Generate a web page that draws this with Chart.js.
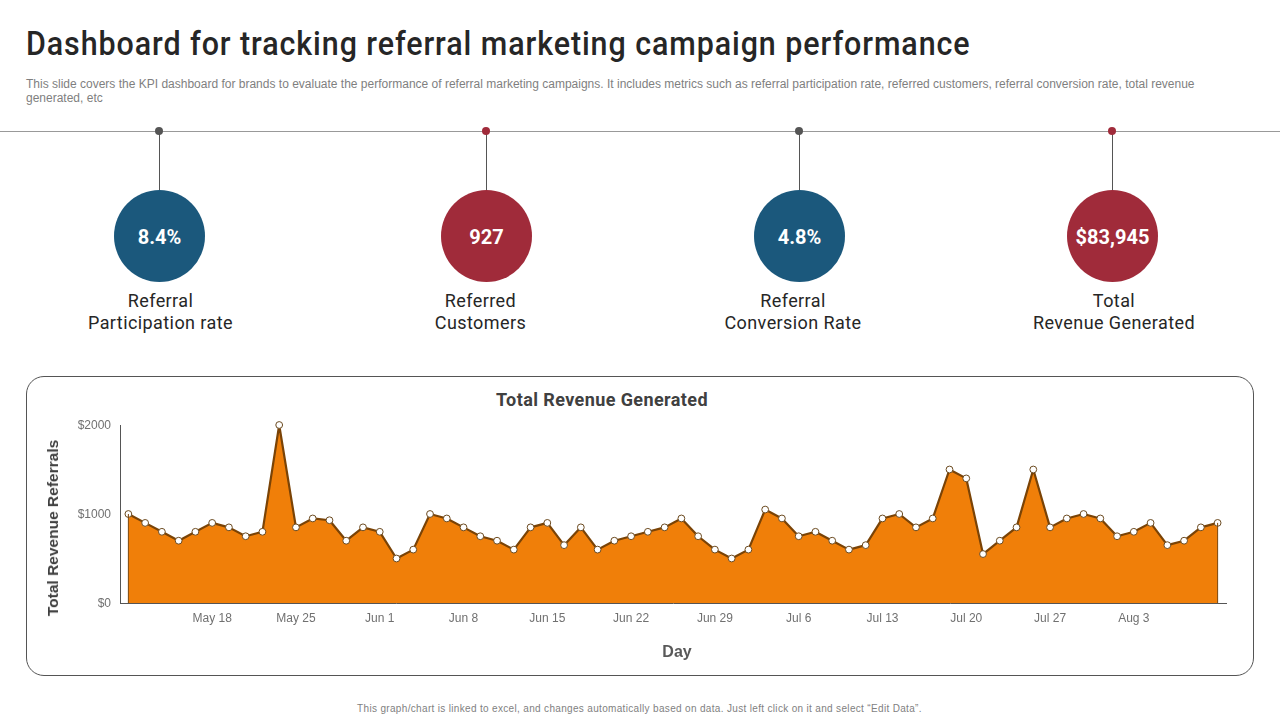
<!DOCTYPE html>
<html><head><meta charset="utf-8">
<script src="https://cdn.jsdelivr.net/npm/chart.js@4"></script>
<style>
html,body{margin:0;padding:0;background:#fff;width:1280px;height:720px;overflow:hidden;font-family:"Liberation Sans",Arial,sans-serif}
.a{position:absolute}
#title{left:26px;top:24px;font:500 33px/40px Roboto,sans-serif;letter-spacing:1px;color:#262626;white-space:nowrap;transform:scaleX(.922);transform-origin:left center}
#sub{left:26px;top:77px;width:1210px;font:12px/14px "Liberation Sans",sans-serif;color:#7f7f7f;letter-spacing:0}
#rule{left:0;top:131px;width:1280px;height:1px;background:#999}
.dot{width:8px;height:8px;border-radius:50%;top:127px}
.stem{width:1px;top:131px;height:60px;background:#555}
.circ{width:91px;height:92px;border-radius:50%;top:190px;color:#fff;text-align:center;font:700 20px/94px Roboto,sans-serif;letter-spacing:0}
.lab{top:290px;width:260px;text-align:center;font:400 18px/22px Roboto,sans-serif;letter-spacing:.42px;color:#262626}
#box{left:26px;top:376px;width:1226px;height:298px;border:1px solid #555;border-radius:18px}
#ct{left:400px;top:389px;width:404px;text-align:center;font:700 18px/22px Roboto,sans-serif;letter-spacing:.4px;color:#404040}
#wrap{left:27px;top:377px;width:1227px;height:299px}
#ytitle{left:53px;top:528px;transform:translate(-50%,-50%) rotate(-90deg);font:700 15.5px/18px "Liberation Sans",sans-serif;color:#404040;white-space:nowrap}
#xtitle{left:677px;top:652px;transform:translate(-50%,-50%);font:700 16px/18px "Liberation Sans",sans-serif;color:#595959;white-space:nowrap}
#foot{left:0;top:702px;width:1279px;text-align:center;font:10px/14px "Liberation Sans",sans-serif;color:#7f7f7f;letter-spacing:.33px}
</style></head><body>
<div class="a" id="title">Dashboard for tracking referral marketing campaign performance</div>
<div class="a" id="sub">This slide covers the KPI dashboard for brands to evaluate the performance of referral marketing campaigns. It includes metrics such as referral participation rate, referred customers, referral conversion rate, total revenue generated, etc</div>
<div class="a" id="rule"></div>
<div id="kpis"></div>
<div class="a" id="box"></div>
<div class="a" id="ct">Total Revenue Generated</div>
<div class="a" id="wrap"><canvas id="c"></canvas></div>
<div class="a" id="ytitle">Total Revenue Referrals</div>
<div class="a" id="xtitle">Day</div>
<div class="a" id="foot">This graph/chart is linked to excel, and changes automatically based on data. Just left click on it and select “Edit Data”.</div>
<script>
const kpiValues = ["8.4%", "927", "4.8%", "$83,945"];
const kpiLabels = [["Referral","Participation rate"],["Referred","Customers"],["Referral","Conversion Rate"],["Total","Revenue Generated"]];
const kpiCenters = [159.5, 486.5, 799.5, 1112.5];
const kpiLabelCenters = [160.5, 480.5, 793, 1114];
const kpiColors = ["#1B587C", "#A02B3A", "#1B587C", "#A02B3A"];
const kpiDots = ["#555555", "#A02B3A", "#555555", "#A02B3A"];

const days = [
"May 11","May 12","May 13","May 14","May 15",
"May 18","May 19","May 20","May 21","May 22",
"May 25","May 26","May 27","May 28","May 29",
"Jun 1","Jun 2","Jun 3","Jun 4","Jun 5",
"Jun 8","Jun 9","Jun 10","Jun 11","Jun 12",
"Jun 15","Jun 16","Jun 17","Jun 18","Jun 19",
"Jun 22","Jun 23","Jun 24","Jun 25","Jun 26",
"Jun 29","Jun 30","Jul 1","Jul 2","Jul 3",
"Jul 6","Jul 7","Jul 8","Jul 9","Jul 10",
"Jul 13","Jul 14","Jul 15","Jul 16","Jul 17",
"Jul 20","Jul 21","Jul 22","Jul 23","Jul 24",
"Jul 27","Jul 28","Jul 29","Jul 30","Jul 31",
"Aug 3","Aug 4","Aug 5","Aug 6","Aug 7",
"Aug 10"];
const tickLabels = ["May 18","May 25","Jun 1","Jun 8","Jun 15","Jun 22","Jun 29","Jul 6","Jul 13","Jul 20","Jul 27","Aug 3"];
const revenue = [
1000,900,800,700,800,
900,850,750,800,2000,
850,950,930,700,850,
800,500,600,1000,950,
850,750,700,600,850,
900,650,850,600,700,
750,800,850,950,750,
600,500,600,1050,950,
750,800,700,600,650,
950,1000,850,950,1500,
1400,550,700,850,1500,
850,950,1000,950,750,
800,900,650,700,850,
900];

const kpis = document.getElementById('kpis');
function add(cls, css, text){
  const d = document.createElement('div');
  d.className = 'a ' + cls;
  Object.assign(d.style, css);
  if (text !== undefined) d.innerHTML = text;
  kpis.appendChild(d);
}
kpiValues.forEach((v,i)=>{
  add('stem',{left:(kpiCenters[i]-0.5)+'px'});
  add('dot',{left:(kpiCenters[i]-4.5)+'px',background:kpiDots[i]});
  add('circ',{left:(kpiCenters[i]-45.5)+'px',background:kpiColors[i]},v);
  add('lab',{left:(kpiLabelCenters[i]-130)+'px'},kpiLabels[i].join('<br>'));
});

const sideEdges = {
  id:'sideEdges',
  afterDatasetDraw(chart){
    const {ctx,scales:{x,y}} = chart;
    ctx.save();
    ctx.strokeStyle = '#7A4306';
    ctx.lineWidth = 1;
    [0, revenue.length-1].forEach(i=>{
      const px = x.getPixelForValue(i);
      ctx.beginPath();
      ctx.moveTo(px,y.getPixelForValue(revenue[i]));
      ctx.lineTo(px,y.getPixelForValue(0));
      ctx.stroke();
    });
    ctx.restore();
  }
};

new Chart(document.getElementById('c'),{
  type:'line',
  data:{labels:days,datasets:[{
    data:revenue,
    fill:'origin',
    backgroundColor:'#F07F09',
    borderColor:'#7A4306',
    borderWidth:2.2,
    borderJoinStyle:'round',
    tension:0,
    clip:false,
    pointRadius:3.4,
    pointHoverRadius:3.4,
    pointBackgroundColor:'#FFFFFF',
    pointBorderColor:'#6B4A20',
    pointBorderWidth:1
  }]},
  options:{
    responsive:true,maintainAspectRatio:false,animation:false,
    layout:{padding:{top:48,right:28,left:0,bottom:0}},
    plugins:{legend:{display:false},tooltip:{enabled:false}},
    scales:{
      x:{
        offset:true,
        afterFit(s){s.height=73;},
        grid:{display:false,drawTicks:false},
        border:{color:'#555555',width:1},
        ticks:{
          autoSkip:false,maxRotation:0,padding:8,color:'#707070',
          font:{family:'"Liberation Sans"',size:12},
          callback(v){const l=days[v];return tickLabels.includes(l)?l:'';}
        }
      },
      y:{
        min:0,max:2000,
        afterFit(s){s.width=93;},
        grid:{display:false,drawTicks:false},
        border:{color:'#555555',width:1},
        ticks:{stepSize:1000,padding:9,color:'#707070',labelOffset:1,
          font:{family:'"Liberation Sans"',size:12},
          callback(v){return '$'+v;}}
      }
    }
  },
  plugins:[sideEdges]
});
</script>
</body></html>
